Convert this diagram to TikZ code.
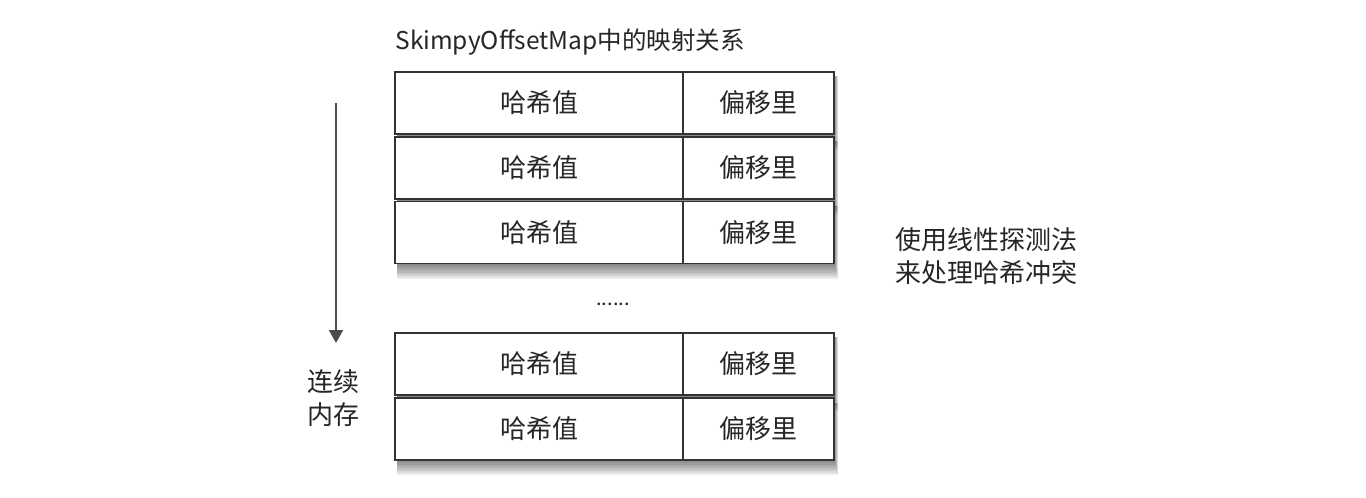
\documentclass[tikz,border=0pt]{standalone}
\usepackage{fontspec}
\setmainfont{Noto Sans CJK SC}
\usetikzlibrary{arrows.meta}
\begin{document}
\begin{tikzpicture}[x=0.5pt,y=-0.5pt,
  cell/.style={draw=black!80, line width=0.75pt, fill=white, minimum height=31pt, inner sep=0pt, font=\fontsize{13pt}{15pt}\selectfont, text=black!85},
  hcell/.style={cell, minimum width=144pt},
  ocell/.style={cell, minimum width=75.5pt},
  lbl/.style={font=\fontsize{13pt}{16.5pt}\selectfont, text=black!85, inner sep=0pt},
  shadowlayer/.style={fill=black, opacity=0.075, draw=none}]
\fill[white] (0,0) rectangle (1366,498);
\useasboundingbox (0,0) rectangle (1366,498);
% shadows
\foreach \yt/\yb in {72/134,137/199,202/263,333/395,399/459}{
  \foreach \i in {1,...,8}{
    \fill[shadowlayer] (397,\yt+4) rectangle (834+0.5*\i,\yb+2*\i);
  }
}
% rows
\foreach \n/\y in {1/103,2/168,3/232.5,4/364,5/429}{
  \node[hcell] (h\n) at (539,\y) {哈希值};
  \node[ocell] (o\n) at (758.5,\y) {偏移里};
}
\node[lbl, font=\fontsize{10pt}{12pt}\selectfont, anchor=base] (dots) at (613,305) {......};
\node[lbl, anchor=west, font=\fontsize{12.25pt}{15pt}\selectfont] (title) at (395,42) {SkimpyOffsetMap中的映射关系};
\coordinate (atop) at (336,103);
\coordinate (abot) at (336,343);
\draw[-{Triangle[width=7pt,length=6.5pt]}, line width=1pt, draw=black!70] (atop) -- (abot);
\node[lbl, align=center] (mem) at (333,398.5) {连续\\内存};
\node[lbl, align=left, anchor=west] (note) at (895,256.5) {使用线性探测法\\来处理哈希冲突};
\end{tikzpicture}
\end{document}
